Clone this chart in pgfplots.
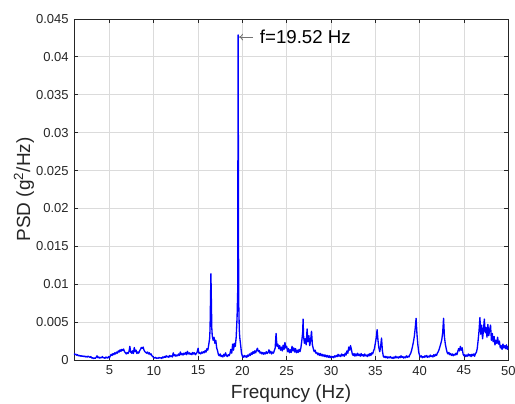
\documentclass[border=0pt]{standalone}
\usepackage{fontspec}
\setmainfont{Liberation Sans}
\usepackage{pgfplots}
\pgfplotsset{compat=1.18}
\usepackage{pgfplotstable}
\usetikzlibrary{arrows.meta}

\definecolor{axisgray}{rgb}{0.15,0.15,0.15}
\definecolor{gridgray}{rgb}{0.86,0.86,0.86}

% Power spectral density, frequency (Hz) vs PSD (g^2/Hz)
\pgfplotstableread{
f psd
1.0 0.85e-3
1.1 0.70e-3
1.2 0.78e-3
1.3 0.62e-3
1.4 0.70e-3
1.5 0.55e-3
1.6 0.62e-3
1.7 0.50e-3
1.8 0.58e-3
1.9 0.48e-3
2.0 0.55e-3
2.1 0.45e-3
2.2 0.52e-3
2.3 0.40e-3
2.4 0.48e-3
2.5 0.38e-3
2.6 0.50e-3
2.7 0.42e-3
2.8 0.35e-3
2.9 0.45e-3
3.0 0.25e-3
3.1 0.30e-3
3.2 0.18e-3
3.3 0.28e-3
3.4 0.22e-3
3.5 0.35e-3
3.6 0.55e-3
3.7 0.30e-3
3.8 0.40e-3
3.9 0.25e-3
4.0 0.35e-3
4.1 0.30e-3
4.2 0.45e-3
4.3 0.28e-3
4.4 0.32e-3
4.5 0.22e-3
4.6 0.40e-3
4.7 0.30e-3
4.8 0.25e-3
4.9 0.45e-3
5.0 0.30e-3
5.1 0.55e-3
5.2 0.75e-3
5.3 0.60e-3
5.4 0.85e-3
5.5 0.70e-3
5.6 0.95e-3
5.7 0.80e-3
5.8 1.05e-3
5.9 0.90e-3
6.0 1.20e-3
6.1 1.05e-3
6.2 1.35e-3
6.3 1.15e-3
6.4 1.40e-3
6.5 1.25e-3
6.6 1.45e-3
6.7 1.10e-3
6.8 0.95e-3
6.9 0.80e-3
7.0 1.00e-3
7.1 0.85e-3
7.2 1.10e-3
7.3 1.80e-3
7.4 1.05e-3
7.5 0.90e-3
7.6 1.20e-3
7.7 0.85e-3
7.8 1.65e-3
7.9 1.10e-3
8.0 1.30e-3
8.1 0.85e-3
8.2 1.05e-3
8.3 0.90e-3
8.4 1.20e-3
8.5 1.40e-3
8.6 1.65e-3
8.7 1.55e-3
8.8 1.70e-3
8.9 1.30e-3
9.0 1.10e-3
9.1 1.00e-3
9.2 0.90e-3
9.3 1.05e-3
9.4 0.80e-3
9.5 0.95e-3
9.6 0.70e-3
9.7 0.80e-3
9.8 0.55e-3
9.9 0.45e-3
10.0 0.30e-3
10.1 0.25e-3
10.2 0.35e-3
10.3 0.20e-3
10.4 0.28e-3
10.5 0.22e-3
10.6 0.35e-3
10.7 0.25e-3
10.8 0.30e-3
10.9 0.20e-3
11.0 0.40e-3
11.1 0.30e-3
11.2 0.45e-3
11.3 0.35e-3
11.4 0.55e-3
11.5 0.40e-3
11.6 0.50e-3
11.7 0.35e-3
11.8 0.60e-3
11.9 0.45e-3
12.0 0.55e-3
12.1 0.40e-3
12.2 0.95e-3
12.3 0.55e-3
12.4 0.70e-3
12.5 0.50e-3
12.6 0.65e-3
12.7 0.55e-3
12.8 0.80e-3
12.9 0.60e-3
13.0 1.05e-3
13.1 0.70e-3
13.2 0.85e-3
13.3 0.65e-3
13.4 0.90e-3
13.5 0.75e-3
13.6 1.00e-3
13.7 0.70e-3
13.8 1.15e-3
13.9 0.80e-3
14.0 0.95e-3
14.1 0.75e-3
14.2 0.90e-3
14.3 0.70e-3
14.4 1.00e-3
14.5 0.80e-3
14.6 0.95e-3
14.7 0.70e-3
14.8 0.85e-3
14.9 1.05e-3
15.0 1.55e-3
15.1 0.90e-3
15.2 0.95e-3
15.3 0.80e-3
15.4 1.05e-3
15.5 0.90e-3
15.6 1.10e-3
15.7 0.95e-3
15.8 1.25e-3
15.9 1.05e-3
16.0 1.50e-3
16.1 1.30e-3
16.2 2.00e-3
16.3 2.80e-3
16.35 4.0e-3
16.45 11.4e-3
16.55 4.2e-3
16.6 3.2e-3
16.7 2.6e-3
16.8 3.0e-3
16.9 2.2e-3
17.0 2.6e-3
17.1 1.6e-3
17.2 1.2e-3
17.3 0.70e-3
17.4 0.55e-3
17.5 0.80e-3
17.6 0.45e-3
17.7 0.60e-3
17.8 0.40e-3
17.9 0.75e-3
18.0 0.50e-3
18.1 0.95e-3
18.2 0.60e-3
18.3 0.45e-3
18.4 0.70e-3
18.5 0.55e-3
18.6 0.85e-3
18.7 1.40e-3
18.8 0.90e-3
18.9 2.10e-3
19.0 1.30e-3
19.1 2.20e-3
19.2 1.80e-3
19.3 3.00e-3
19.4 5.60e-3
19.47 9.0e-3
19.52 42.9e-3
19.58 8.0e-3
19.65 4.00e-3
19.7 3.0e-3
19.8 2.0e-3
19.9 0.90e-3
20.0 0.50e-3
20.1 0.35e-3
20.2 0.60e-3
20.3 0.40e-3
20.4 0.55e-3
20.5 0.35e-3
20.6 0.65e-3
20.7 0.50e-3
20.8 0.80e-3
20.9 0.60e-3
21.0 0.95e-3
21.1 0.75e-3
21.2 1.10e-3
21.3 0.85e-3
21.4 1.20e-3
21.5 0.95e-3
21.6 1.30e-3
21.7 1.55e-3
21.8 1.10e-3
21.9 1.25e-3
22.0 0.90e-3
22.1 1.05e-3
22.2 0.80e-3
22.3 1.00e-3
22.4 0.75e-3
22.5 0.95e-3
22.6 0.80e-3
22.7 1.10e-3
22.8 0.85e-3
22.9 1.00e-3
23.0 1.35e-3
23.1 0.90e-3
23.2 1.15e-3
23.3 0.80e-3
23.4 1.05e-3
23.5 0.90e-3
23.6 1.25e-3
23.7 1.60e-3
23.8 3.50e-3
23.9 1.80e-3
24.0 2.10e-3
24.1 1.50e-3
24.2 1.90e-3
24.3 1.30e-3
24.4 1.70e-3
24.5 1.20e-3
24.6 1.95e-3
24.7 1.40e-3
24.8 2.30e-3
24.9 1.60e-3
25.0 1.80e-3
25.1 1.10e-3
25.2 1.50e-3
25.3 0.95e-3
25.4 1.35e-3
25.5 1.00e-3
25.6 1.80e-3
25.7 1.20e-3
25.8 1.60e-3
25.9 1.05e-3
26.0 1.50e-3
26.1 0.95e-3
26.2 1.30e-3
26.3 1.00e-3
26.4 1.40e-3
26.5 1.10e-3
26.6 1.60e-3
26.7 2.50e-3
26.8 3.60e-3
26.85 5.40e-3
26.9 3.20e-3
27.0 2.20e-3
27.1 2.80e-3
27.2 2.00e-3
27.3 4.10e-3
27.4 2.40e-3
27.5 3.20e-3
27.6 1.90e-3
27.7 2.60e-3
27.8 3.80e-3
27.9 2.00e-3
28.0 1.50e-3
28.1 1.10e-3
28.2 1.30e-3
28.3 0.90e-3
28.4 1.00e-3
28.5 0.70e-3
28.6 0.90e-3
28.7 0.60e-3
28.8 0.85e-3
28.9 0.55e-3
29.0 0.75e-3
29.1 0.50e-3
29.2 0.70e-3
29.3 0.45e-3
29.4 0.65e-3
29.5 0.40e-3
29.6 0.60e-3
29.7 0.35e-3
29.8 0.55e-3
29.9 0.30e-3
30.0 0.50e-3
30.1 0.35e-3
30.2 0.45e-3
30.3 0.30e-3
30.4 0.55e-3
30.5 0.40e-3
30.6 0.60e-3
30.7 0.45e-3
30.8 0.75e-3
30.9 0.50e-3
31.0 0.65e-3
31.1 0.45e-3
31.2 0.80e-3
31.3 0.55e-3
31.4 0.70e-3
31.5 0.50e-3
31.6 0.90e-3
31.7 0.65e-3
31.8 1.20e-3
31.9 0.90e-3
32.0 1.70e-3
32.1 1.30e-3
32.2 1.90e-3
32.3 1.40e-3
32.4 0.80e-3
32.5 0.60e-3
32.6 0.85e-3
32.7 0.50e-3
32.8 0.80e-3
32.9 0.55e-3
33.0 0.90e-3
33.1 0.60e-3
33.2 0.75e-3
33.3 0.50e-3
33.4 0.85e-3
33.5 0.55e-3
33.6 0.70e-3
33.7 0.50e-3
33.8 0.80e-3
33.9 0.55e-3
34.0 0.65e-3
34.1 0.45e-3
34.2 0.75e-3
34.3 0.55e-3
34.4 0.85e-3
34.5 0.60e-3
34.6 0.95e-3
34.7 0.80e-3
34.8 1.20e-3
34.9 1.50e-3
35.0 2.20e-3
35.1 2.90e-3
35.2 4.00e-3
35.3 2.60e-3
35.4 1.60e-3
35.5 1.10e-3
35.6 1.80e-3
35.7 2.90e-3
35.8 1.20e-3
35.9 0.50e-3
36.0 0.35e-3
36.1 0.50e-3
36.2 0.30e-3
36.3 0.45e-3
36.4 0.25e-3
36.5 0.40e-3
36.6 0.30e-3
36.7 0.45e-3
36.8 0.25e-3
36.9 0.35e-3
37.0 0.20e-3
37.1 0.40e-3
37.2 0.25e-3
37.3 0.50e-3
37.4 0.30e-3
37.5 0.40e-3
37.6 0.25e-3
37.7 0.45e-3
37.8 0.30e-3
37.9 0.55e-3
38.0 0.35e-3
38.1 0.45e-3
38.2 0.25e-3
38.3 0.40e-3
38.4 0.30e-3
38.5 0.55e-3
38.6 0.35e-3
38.7 0.50e-3
38.8 0.40e-3
38.9 0.70e-3
39.0 0.90e-3
39.1 1.30e-3
39.2 1.80e-3
39.3 2.40e-3
39.4 3.10e-3
39.5 4.20e-3
39.6 5.50e-3
39.7 3.40e-3
39.8 2.00e-3
39.9 1.00e-3
40.0 0.60e-3
40.1 0.40e-3
40.2 0.55e-3
40.3 0.30e-3
40.4 0.45e-3
40.5 0.35e-3
40.6 0.55e-3
40.7 0.40e-3
40.8 0.60e-3
40.9 0.35e-3
41.0 0.50e-3
41.1 0.40e-3
41.2 0.65e-3
41.3 0.45e-3
41.4 0.55e-3
41.5 0.40e-3
41.6 0.70e-3
41.7 0.50e-3
41.8 0.75e-3
41.9 0.60e-3
42.0 0.90e-3
42.1 1.10e-3
42.2 1.40e-3
42.3 1.80e-3
42.4 2.20e-3
42.5 2.70e-3
42.6 3.60e-3
42.7 5.50e-3
42.8 3.00e-3
42.9 2.10e-3
43.0 1.50e-3
43.1 1.00e-3
43.2 0.80e-3
43.3 1.00e-3
43.4 0.70e-3
43.5 0.85e-3
43.6 0.60e-3
43.7 0.80e-3
43.8 0.55e-3
43.9 0.75e-3
44.0 0.65e-3
44.1 0.90e-3
44.2 0.70e-3
44.3 1.10e-3
44.4 1.50e-3
44.5 1.20e-3
44.6 1.80e-3
44.7 1.30e-3
44.8 1.60e-3
44.9 0.80e-3
45.0 0.55e-3
45.1 0.70e-3
45.2 0.45e-3
45.3 0.65e-3
45.4 0.50e-3
45.5 0.80e-3
45.6 0.55e-3
45.7 0.70e-3
45.8 0.45e-3
45.9 0.75e-3
46.0 0.55e-3
46.1 0.80e-3
46.2 0.50e-3
46.3 0.85e-3
46.4 1.00e-3
46.5 1.50e-3
46.6 2.60e-3
46.7 3.80e-3
46.8 5.60e-3
46.9 3.40e-3
47.0 4.60e-3
47.1 2.80e-3
47.2 3.90e-3
47.3 5.40e-3
47.4 3.60e-3
47.5 4.30e-3
47.6 3.00e-3
47.7 4.70e-3
47.8 3.20e-3
47.9 4.00e-3
48.0 4.60e-3
48.1 2.60e-3
48.2 3.50e-3
48.3 2.40e-3
48.4 3.10e-3
48.5 2.00e-3
48.6 2.60e-3
48.7 2.20e-3
48.8 3.00e-3
48.9 2.10e-3
49.0 2.50e-3
49.1 1.60e-3
49.2 1.90e-3
49.3 1.40e-3
49.4 2.10e-3
49.5 1.60e-3
49.6 1.90e-3
49.7 1.50e-3
49.8 2.00e-3
49.9 1.40e-3
50.0 1.80e-3
}\psddata

\begin{document}
\begin{tikzpicture}
\begin{axis}[
  scale only axis,
  width=325.7pt, height=255.75pt,
  xmin=1, xmax=50, ymin=0, ymax=0.045,
  xtick={5,10,...,50},
  ytick={0,0.005,...,0.045},
  yticklabels={0,0.005,0.01,0.015,0.02,0.025,0.03,0.035,0.04,0.045},
  scaled y ticks=false,
  grid=major,
  major grid style={gridgray, line width=0.6pt},
  axis line style={axisgray, line width=0.6pt},
  major tick style={axisgray, line width=0.6pt},
  major tick length=3pt,
  tick label style={font=\fontsize{9.75}{11}\selectfont, text=axisgray},
  /pgf/number format/assume math mode=true,
  xticklabel style={yshift=-1pt},
  yticklabel style={xshift=-0.5pt},
  xlabel={Frequncy (Hz)},
  ylabel={PSD (g\textsuperscript{2}/Hz)},
  label style={font=\fontsize{14.25}{16}\selectfont, text=axisgray},
  xlabel style={at={(axis description cs:0.5,0)}, anchor=north, inner sep=0pt, yshift=-18.5pt},
  ylabel style={at={(axis description cs:-0.115,0.5)}, anchor=center, inner sep=0pt},
]
\addplot[blue, line width=1pt, line join=round] table[x=f, y=psd] {\psddata};
\draw[black!55, line width=0.6pt, -{To[length=3pt,width=5pt]}]
  (axis cs:21.2,0.04262) -- (axis cs:19.62,0.04262);
\node[anchor=west, inner sep=0pt, font=\fontsize{14}{16}\selectfont, text=black]
  at (axis cs:21.95,0.04262) {f=19.52 Hz};
\end{axis}
\pgfresetboundingbox
\useasboundingbox (-55.5pt,-33pt) rectangle (330.75pt,270pt);
\end{tikzpicture}
\end{document}
